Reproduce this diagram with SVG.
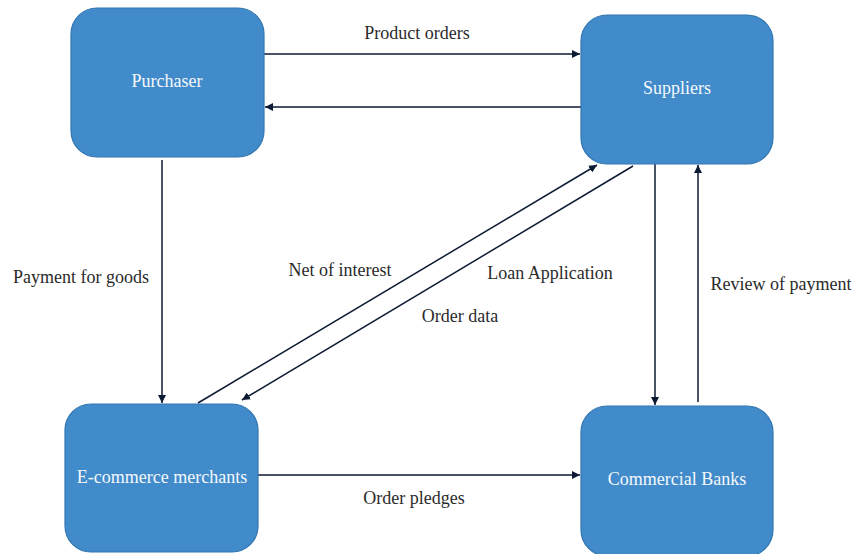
<svg xmlns="http://www.w3.org/2000/svg" width="854" height="554" viewBox="0 0 854 554">
<style>
.node{fill:#428bca;stroke:#3276b1;stroke-width:1.2}
.nt{font-family:"Liberation Serif","DejaVu Serif",serif;font-size:18px;fill:#f4f8fc;text-anchor:middle}
.lbl{font-family:"Liberation Serif","DejaVu Serif",serif;font-size:18px;fill:#2b2b2b;text-anchor:middle}
.c{stroke:#0d1a33;stroke-width:1.5;fill:none;marker-end:url(#ah)}
</style>
<defs>
<marker id="ah" viewBox="0 0 10 10" refX="10" refY="5" markerWidth="8" markerHeight="8" markerUnits="userSpaceOnUse" orient="auto">
<path d="M0,0 L10,5 L0,10 z" fill="#0d1a33"/>
</marker>
</defs>
<rect width="854" height="554" fill="#ffffff"/>
<g id="connectors">
<line class="c" x1="264" y1="54" x2="580" y2="54"/>
<line class="c" x1="581" y1="107" x2="265" y2="107"/>
<line class="c" x1="162" y1="160" x2="162" y2="403"/>
<line class="c" x1="198" y1="403" x2="597" y2="165"/>
<line class="c" x1="633" y1="166" x2="242" y2="400"/>
<line class="c" x1="655" y1="164" x2="655" y2="405"/>
<line class="c" x1="698" y1="402" x2="698" y2="165"/>
<line class="c" x1="258" y1="475" x2="580" y2="475"/>
<text class="lbl" x="417" y="39">Product orders</text>
<text class="lbl" x="81" y="283">Payment for goods</text>
<text class="lbl" x="340" y="276">Net of interest</text>
<text class="lbl" x="550" y="279">Loan Application</text>
<text class="lbl" x="460" y="322">Order data</text>
<text class="lbl" x="781" y="290">Review of payment</text>
<text class="lbl" x="414" y="504">Order pledges</text>
</g>
<g id="purchaser">
<rect class="node" x="71" y="8" width="193" height="149" rx="26"/>
<text class="nt" x="167" y="87">Purchaser</text>
</g>
<g id="suppliers">
<rect class="node" x="581" y="15" width="192" height="149" rx="26"/>
<text class="nt" x="677" y="94">Suppliers</text>
</g>
<g id="ecommerce">
<rect class="node" x="65" y="404" width="193" height="148" rx="26"/>
<text class="nt" x="162" y="483">E-commerce merchants</text>
</g>
<g id="banks">
<rect class="node" x="581" y="406" width="192" height="150" rx="26"/>
<text class="nt" x="677" y="485">Commercial Banks</text>
</g>
</svg>
